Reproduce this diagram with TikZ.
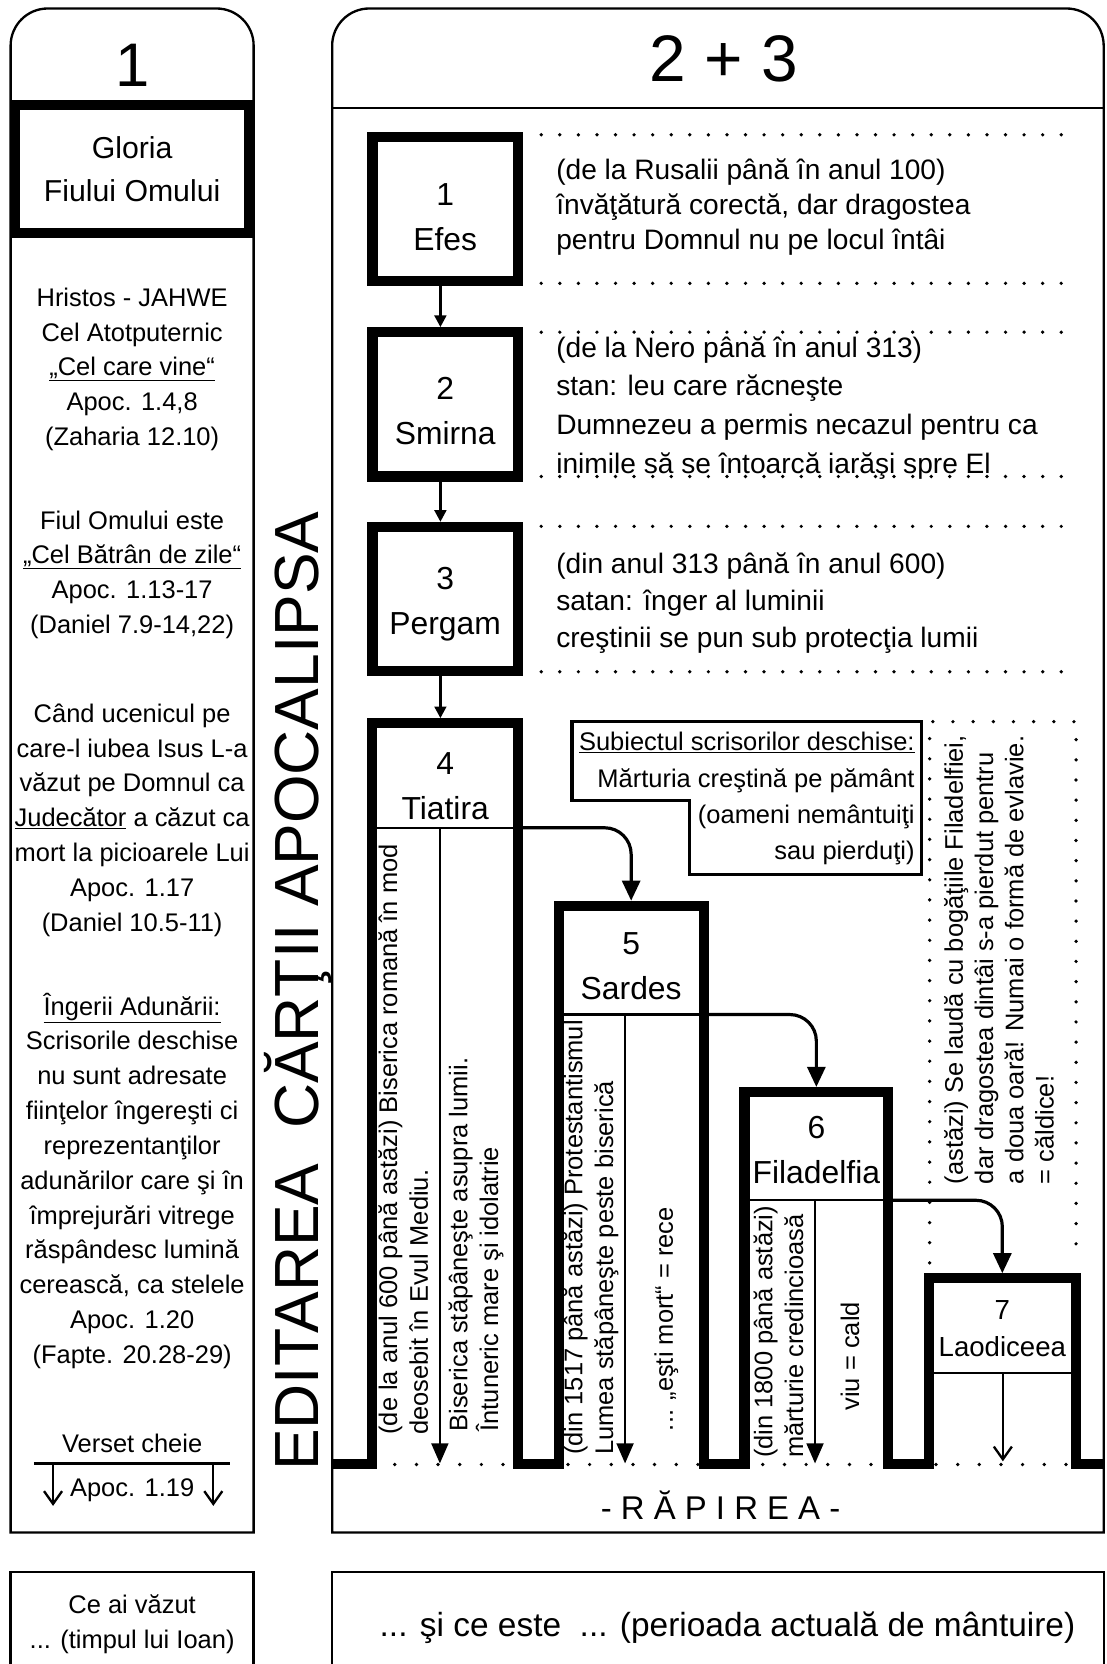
\documentclass[tikz,border=0pt]{standalone}
\usepackage{fontspec}
\setmainfont{Liberation Sans}
\usepackage{tikz}
\usetikzlibrary{shapes,arrows,arrows.meta,positioning}
\tikzstyle{panel} = [draw, line width=2.2pt]
\tikzstyle{thickbox} = [draw, line width=10pt, inner sep=0pt]
\tikzstyle{churchbox} = [draw, line width=9.5pt, minimum width=137pt, minimum height=136pt, inner sep=0pt]
\tikzstyle{cell} = [draw, line width=2pt, inner sep=0pt, outer sep=0pt]
\tikzstyle{wall} = [line width=9.5pt]
\tikzstyle{churchname} = [align=center, anchor=base, inner sep=0pt, font=\fontsize{30}{42.5}\selectfont]
\tikzstyle{sidetext} = [align=center, anchor=base, inner sep=0pt, font=\fontsize{24}{32.8}\selectfont]
\tikzstyle{rowtext} = [align=left, anchor=base west, inner sep=0pt]
\tikzstyle{coltext} = [align=left, rotate=90, anchor=base west, inner sep=0pt, font=\fontsize{24}{29}\selectfont]
\tikzstyle{dotline} = [line width=3.5pt, line cap=round, dash pattern=on 0pt off 17.5pt]
\tikzstyle{bigarrow} = [line width=3pt, rounded corners=25pt, -{Triangle[length=19pt,width=17pt]}]
\tikzstyle{smallarrow} = [line width=2.5pt, -{Triangle[length=11pt,width=11pt]}]
\tikzstyle{innerarrow} = [line width=2pt, -{Triangle[length=19pt,width=16pt]}]
\tikzstyle{openarrow} = [line width=2.2pt, -{Straight Barb[length=12pt,width=17pt]}]
\begin{document}
\begin{tikzpicture}[x=1pt, y=-1pt]
\useasboundingbox (0,0) rectangle (1043,1568);
\draw[panel] (10,1444) -- (10,200) [rounded corners=35pt] -- (10,8) -- (239,8) -- (239,200) [sharp corners] -- (239,1444) -- cycle;
\draw[panel] (313,1444) -- (313,200) [rounded corners=35pt] -- (313,8) -- (1040,8) -- (1040,200) [sharp corners] -- (1040,1444) -- cycle;
\draw[panel] (313,102) -- (1040,102);
\draw[panel] (10,1580) -- (10,1481) -- (239,1481) -- (239,1580);
\draw[panel] (313,1580) -- (313,1481) -- (1040,1481) -- (1040,1580);

\node[font=\fontsize{58}{58}\selectfont] (h1) at (124.5,62) {1};
\node[font=\fontsize{62}{62}\selectfont] (h23) at (682,55) {2 + 3};
\node[thickbox, minimum width=221pt, minimum height=120.5pt, align=center, font=\fontsize{28.5}{41}\selectfont] (gloria) at (124.5,159.25) {Gloria\\Fiului Omului};

\node[sidetext] (hristos) at (124.5,419.8) {Hristos - JAHWE\\Cel Atotputernic\\\underline{„Cel care vine“}\\Apoc. 1.4,8\\(Zaharia 12.10)};
\node[sidetext] (fiul) at (124.5,597) {Fiul Omului este\\\underline{„Cel Bătrân de zile“}\\Apoc. 1.13-17\\(Daniel 7.9-14,22)};
\node[sidetext] (ucenic) at (124.5,877.4) {Când ucenicul pe\\care-l iubea Isus L-a\\văzut pe Domnul ca\\\underline{Judecător} a căzut ca\\mort la picioarele Lui\\Apoc. 1.17\\(Daniel 10.5-11)};
\node[sidetext] (ingerii) at (124.5,1284.6) {\underline{Îngerii Adunării:}\\Scrisorile deschise\\nu sunt adresate\\fiinţelor îngereşti ci\\reprezentanţilor\\adunărilor care şi în\\împrejurări vitrege\\răspândesc lumină\\cerească, ca stelele\\Apoc. 1.20\\(Fapte. 20.28-29)};
\node[sidetext] (verset) at (124.5,1368.6) {Verset cheie};
\node[sidetext] (apoc) at (124.5,1410.6) {Apoc. 1.19};
\coordinate (vl) at (32,1379);
\coordinate (vr) at (217,1379);
\coordinate (va1) at (50,1379);
\coordinate (vb1) at (50,1419);
\coordinate (va2) at (201,1379);
\coordinate (vb2) at (201,1419);
\draw[line width=2.5pt] (vl) -- (vr);
\draw[openarrow] (va1) -- (vb1);
\draw[openarrow] (va2) -- (vb2);
\node[sidetext] (ceai) at (124.5,1553.4) {Ce ai văzut\\... (timpul lui Ioan)};

\node[rotate=90, font=\fontsize{58.8}{58.8}\selectfont] (editarea) at (280.5,934) {EDITAREA\ \ CĂRŢII APOCALIPSA};

\node[churchbox] (efes) at (419.5,197) {};
\node[churchbox, below of=efes, node distance=184pt] (smirna) {};
\node[churchbox, below of=smirna, node distance=183.5pt] (pergam) {};
\node[cell, minimum width=138pt, minimum height=98.5pt] (tiatira) at (419.5,730.75) {};
\node[cell, minimum width=136.5pt, minimum height=102.5pt] (sardes) at (594.75,904.75) {};
\node[cell, minimum width=135.5pt, minimum height=102pt] (filadelfia) at (769.25,1080) {};
\node[cell, minimum width=138pt, minimum height=89.5pt] (laodiceea) at (944.5,1249.25) {};

\node[churchname] (n1) at (419.5,236.2) {1\\Efes};
\node[churchname] (n2) at (419.5,419.2) {2\\Smirna};
\node[churchname] (n3) at (419.5,598.2) {3\\Pergam};
\node[churchname] (n4) at (419.5,772.2) {4\\Tiatira};
\node[churchname] (n5) at (594.75,942.2) {5\\Sardes};
\node[churchname] (n6) at (769.25,1115.2) {6\\Filadelfia};
\node[churchname, font=\fontsize{26}{35}\selectfont] (n7) at (944.5,1278) {7\\Laodiceea};

\draw[dotline] (510,127) -- (1000,127);
\draw[dotline] (510,267) -- (1000,267);
\draw[dotline] (510,313) -- (1000,313);
\draw[dotline] (510,449) -- (1000,449);
\draw[dotline] (510,496) -- (1000,496);
\draw[dotline] (510,633) -- (1000,633);
\draw[dotline, dash pattern=on 0pt off 19pt] (876,1190) -- (876,680) -- (1014,680) -- (1014,1190);
\draw[dotline, dash pattern=on 0pt off 20.4pt] (372,1380) -- (1012,1380);

\node[rowtext, font=\fontsize{26.5}{33}\selectfont] (r1) at (524,235.5) {(de la Rusalii până în anul 100)\\învăţătură corectă, dar dragostea\\pentru Domnul nu pe locul întâi};
\node[rowtext, font=\fontsize{26.5}{36.5}\selectfont] (r2) at (524,446) {(de la Nero până în anul 313)\\stan: leu care răcneşte\\Dumnezeu a permis necazul pentru ca\\inimile să se întoarcă iarăşi spre El};
\node[rowtext, font=\fontsize{26.5}{35.3}\selectfont] (r3) at (524,610.6) {(din anul 313 până în anul 600)\\satan: înger al luminii\\creştinii se pun sub protecţia lumii};

\coordinate (g0) at (313,1379.5);
\coordinate (g1) at (1040,1379.5);
\draw[wall] (g0) -- (tiatira.north west |- g0) -- (tiatira.north west) -- (tiatira.north east) -- (tiatira.north east |- g0) -- (sardes.north west |- g0) -- (sardes.north west) -- (sardes.north east) -- (sardes.north east |- g0) -- (filadelfia.north west |- g0) -- (filadelfia.north west) -- (filadelfia.north east) -- (filadelfia.north east |- g0) -- (laodiceea.north west |- g0) -- (laodiceea.north west) -- (laodiceea.north east) -- (laodiceea.north east |- g0) -- (g1);

\draw[smallarrow] ([xshift=-4.5pt]efes.south) -- ([xshift=-4.5pt]smirna.north);
\draw[smallarrow] ([xshift=-4.5pt]smirna.south) -- ([xshift=-4.5pt]pergam.north);
\draw[smallarrow] ([xshift=-4.5pt]pergam.south) -- ([xshift=-4.5pt,yshift=4.75pt]tiatira.north);
\draw[bigarrow] (tiatira.south east) -| ([yshift=4.75pt]sardes.north);
\draw[bigarrow] (sardes.south east) -| ([yshift=4.75pt]filadelfia.north);
\draw[bigarrow] (filadelfia.south east) -| ([yshift=4.75pt]laodiceea.north);

\coordinate (e4) at (414.5,1379);
\coordinate (e5) at (589,1379);
\coordinate (e6) at (768,1379);
\coordinate (e7) at (945,1377);
\draw[innerarrow] (tiatira.south -| e4) -- (e4);
\draw[innerarrow] (sardes.south -| e5) -- (e5);
\draw[innerarrow] (filadelfia.south -| e6) -- (e6);
\draw[openarrow] (laodiceea.south -| e7) -- (e7);

\node[coltext] (t4a) at (403.3,1352) {(de la anul 600 până astăzi) Biserica romană în mod\\deosebit în Evul Mediu.};
\node[coltext] (t4b) at (469.3,1349) {Biserica stăpâneşte asupra lumii.\\Întuneric mare şi idolatrie};
\node[coltext] (t5a) at (577.8,1371) {(din 1517 până astăzi) Protestantismul\\Lumea stăpâneşte peste biserică};
\node[coltext, anchor=center] (t5b) at (628,1243) {... „eşti mort“ = rece};
\node[coltext] (t6a) at (756.8,1374) {(din 1800 până astăzi)\\mărturie credincioasă};
\node[coltext, anchor=center] (t6b) at (801,1278) {viu = cald};
\node[coltext, font=\fontsize{24}{28.5}\selectfont] (t7) at (992.8,1116) {(astăzi) Se laudă cu bogăţiile Filadelfiei,\\dar dragostea dintâi s-a pierdut pentru\\a doua oară! Numai o formă de evlavie.\\= căldice!};

\draw[line width=3pt] (539,680) -- (868,680) -- (868,824) -- (650,824) -- (650,754) -- (539,754) -- cycle;
\node[align=right, anchor=base east, inner sep=0pt, font=\fontsize{24}{34}\selectfont] (subiect) at (862,809.6) {\underline{Subiectul scrisorilor deschise:}\\Mărturia creştină pe pământ\\(oameni nemântuiţi\\sau pierduţi)};

\node[font=\fontsize{31}{31}\selectfont] (rapirea) at (679,1418) {- R Ă P I R E A -};
\node[font=\fontsize{31.5}{31.5}\selectfont] (ceeste) at (685.5,1534) {... şi ce este\ \ ... (perioada actuală de mântuire)};
\end{tikzpicture}
\end{document}
